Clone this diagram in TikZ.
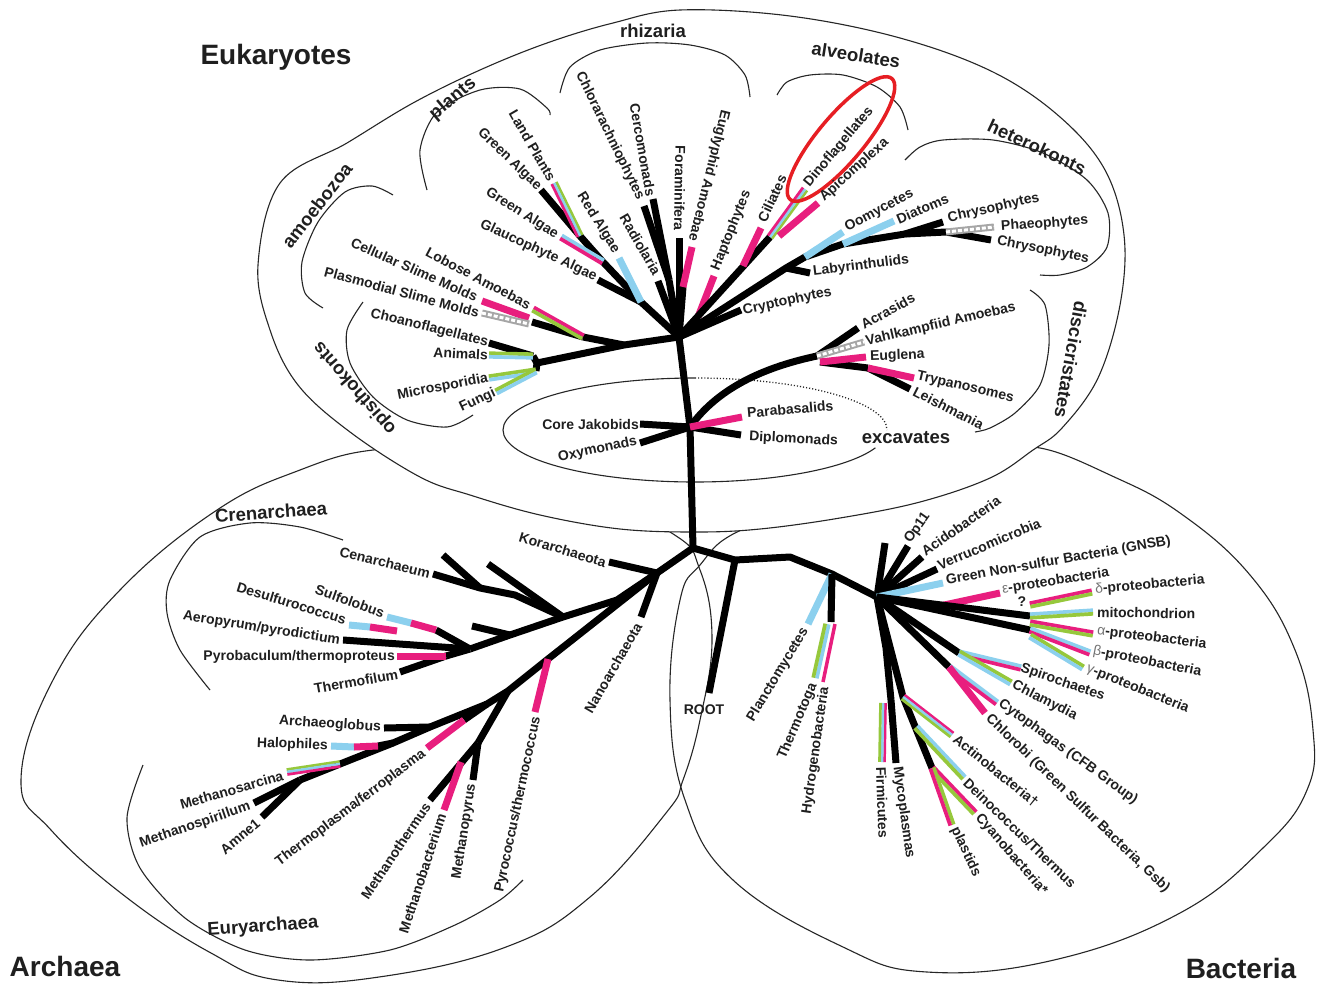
\documentclass[tikz,border=0pt]{standalone}
\usepackage{fontspec}
\setmainfont{Liberation Sans}
\usetikzlibrary{calc,shapes.geometric}
\definecolor{mag}{RGB}{232,30,126}
\definecolor{lblue}{RGB}{140,208,238}
\definecolor{lgreen}{RGB}{150,200,60}
\definecolor{hlred}{RGB}{230,30,35}
\newcommand\onebar[3]{\draw[line width=7pt,#3] (#1) -- (#2);}
\newcommand\twobar[4]{%
  \draw[line width=3.7pt,#3] ($(#1)!1.8pt!90:(#2)$) -- ($(#2)!1.8pt!-90:(#1)$);
  \draw[line width=3.7pt,#4] ($(#1)!1.8pt!-90:(#2)$) -- ($(#2)!1.8pt!90:(#1)$);}
\newcommand\threebar[5]{%
  \draw[line width=2.7pt,#3] ($(#1)!2.5pt!90:(#2)$) -- ($(#2)!2.5pt!-90:(#1)$);
  \draw[line width=2.7pt,#4] (#1) -- (#2);
  \draw[line width=2.7pt,#5] ($(#1)!2.5pt!-90:(#2)$) -- ($(#2)!2.5pt!90:(#1)$);}
\newcommand\hatchbar[2]{\draw[line width=7pt,black!35] (#1) -- (#2);
  \draw[line width=3pt,white,dash pattern=on 4pt off 2pt] (#1) -- (#2);}
\begin{document}
\begin{tikzpicture}[x=1pt,y=1pt,
  br/.style={line width=7pt,black,line join=round},
  thinl/.style={line width=1.1pt,black!85},
  lb/.style={font=\fontsize{14}{16}\selectfont\bfseries,inner sep=1pt,text=black!88},
  grp/.style={font=\fontsize{18.5}{20}\selectfont\bfseries,inner sep=0pt,text=black!88},
  big/.style={font=\fontsize{28}{31}\selectfont\bfseries,inner sep=0pt,text=black!88}]
\useasboundingbox (0,0) rectangle (1322,-983);
\fill[white] (0,0) rectangle (1322,-983);
% ---------- outlines ----------
\draw[thinl] plot[smooth cycle,tension=0.7] coordinates {(21,-780) (53,-680) (120,-590) (217,-510) (300,-470) (373,-450) (450,-452) (560,-482) (670,-532) (700,-570) (712,-640) (700,-720) (683,-780) (666,-813) (590,-897) (506,-947) (379,-977) (278,-980) (211,-953) (126,-897) (51,-830)};
\draw[thinl] plot[smooth cycle,tension=0.7] coordinates {(680,-600) (700,-565) (737,-532) (820,-505) (920,-480) (1000,-455) (1040,-448) (1110,-475) (1180,-513) (1250,-575) (1295,-650) (1313,-730) (1307,-790) (1264,-847) (1180,-913) (1054,-960) (927,-972) (843,-947) (733,-880) (685,-800) (670,-700)};
\draw[thinl,fill=white] plot[smooth cycle,tension=0.6] coordinates {(680,-10) (790,-16) (900,-38) (993,-72) (1060,-117) (1105,-170) (1124,-235) (1120,-305) (1098,-378) (1062,-428) (1033,-450) (990,-478) (920,-502) (840,-518) (760,-529) (697,-532) (620,-529) (540,-515) (470,-495) (420,-477) (350,-432) (298,-385) (270,-330) (258,-265) (280,-183) (347,-143) (413,-103) (480,-70) (547,-43) (613,-23)};
% excavates ellipse
\coordinate (exc) at (695,-430);
\draw[thinl] (exc) ++(90:192pt and 52pt) arc[start angle=90,end angle=340,x radius=192pt,y radius=52pt];
\draw[thinl,dotted,line width=1.3pt] (exc) ++(90:192pt and 52pt) arc[start angle=90,end angle=0,x radius=192pt,y radius=52pt];
% brackets
\draw[thinl] plot[smooth] coordinates {(393,-195) (372,-186) (345,-192) (318,-222) (302,-262) (305,-293) (323,-308)};
\draw[thinl] plot[smooth] coordinates {(427,-190) (420,-150) (437,-112) (480,-90) (520,-89) (547,-108) (550,-115)};
\draw[thinl] plot[smooth] coordinates {(560,-93) (570,-67) (600,-50) (647,-43) (690,-45) (725,-55) (745,-75) (750,-97)};
\draw[thinl] plot[smooth] coordinates {(777,-95) (787,-82) (810,-75) (843,-75) (877,-87) (900,-107) (908,-130)};
\draw[thinl] plot[smooth] coordinates {(905,-160) (920,-147) (943,-140) (993,-140) (1043,-153) (1087,-180) (1108,-213) (1107,-247) (1087,-267) (1060,-275) (1040,-275)};
\draw[thinl] plot[smooth] coordinates {(1030,-290) (1045,-305) (1049,-345) (1040,-385) (1015,-413) (990,-428) (975,-432)};
\draw[thinl] plot[smooth] coordinates {(363,-302) (347,-330) (350,-363) (373,-397) (407,-420) (447,-427) (473,-415)};
\draw[thinl] plot[smooth] coordinates {(343,-540) (300,-527) (250,-523) (200,-537) (170,-580) (167,-613) (180,-650) (210,-690)};
\draw[thinl] plot[smooth] coordinates {(143,-765) (127,-818) (140,-868) (185,-918) (245,-950) (310,-960) (390,-950) (455,-925) (500,-900) (523,-880)};
% ---------- trunk ----------
\coordinate (R) at (693,-548);
\coordinate (T1) at (690,-427);
\coordinate (E0) at (679,-337);
\draw[br] (R) -- (T1) -- (E0);
% ---------- opisthokonts / amoebozoa ----------
\coordinate (EL1) at (624,-345);
\coordinate (A0) at (583,-337);
\coordinate (OP0) at (537,-363);
\coordinate (OPa) at (533,-356);
\coordinate (OPb) at (536,-371);
\coordinate (tChoano) at (489,-343);
\coordinate (tAnimal) at (489,-355);
\coordinate (tMicro) at (489,-378);
\coordinate (tFungi) at (496,-392);
\draw[br] (E0) -- (EL1) -- (OP0);
\draw[br] (EL1) -- (A0);
\draw[br] (OP0) -- (OPa);
\draw[br] (OP0) -- (OPb);
\draw[br] (OPa) -- (tChoano);
\twobar{tAnimal}{OPa}{lgreen}{lblue}
\twobar{tMicro}{OPb}{lgreen}{lblue}
\twobar{tFungi}{OPb}{lgreen}{lblue}
\coordinate (A1) at (532,-322);
\coordinate (tLobo) at (533,-309);
\coordinate (tCell) at (482,-301);
\coordinate (CSa) at (529,-318);
\coordinate (tPlas2) at (482,-313);
\coordinate (PSa) at (529,-324);
\draw[br] (A1) -- (A0);
\twobar{tLobo}{A0}{mag}{lgreen}
\onebar{tCell}{CSa}{mag}
\hatchbar{tPlas2}{PSa}
% ---------- plants ----------
\coordinate (Pl0) at (641,-302);
\coordinate (Pl1) at (603,-262);
\coordinate (Pl2) at (580,-236);
\coordinate (tGlauc) at (598,-280);
\coordinate (tRed) at (619,-258);
\coordinate (tGreenB) at (561,-237);
\coordinate (tGreenA) at (541,-190);
\coordinate (tLand) at (554,-183);
\draw[br] (E0) -- (Pl0) -- (Pl1) -- (Pl2);
\draw[br] (tGlauc) -- (Pl0);
\draw[br] (tGreenA) -- (Pl2);
\onebar{tRed}{Pl0}{lblue}
\twobar{tGreenB}{Pl1}{lblue}{mag}
\threebar{tLand}{Pl2}{lgreen}{lblue}{mag}
% ---------- rhizaria ----------
\coordinate (Rh0) at (669,-280);
\coordinate (tChlor) at (644,-206);
\coordinate (tCerco) at (653,-199);
\coordinate (tForam) at (679,-238);
\coordinate (tRadio) at (658,-281);
\coordinate (tEugly) at (692,-247);
\coordinate (EG1) at (683,-287);
\draw[br] (tChlor) -- (Rh0);
\draw[br] (tCerco) -- (Rh0);
\draw[br] (Rh0) -- (E0);
\draw[br] (tForam) -- (E0);
\draw[br] (tRadio) -- (E0);
\draw[br] (EG1) -- (E0);
\onebar{tEugly}{EG1}{mag}
% ---------- alveolates ----------
\coordinate (tHapto) at (714,-276);
\coordinate (HA1) at (698,-317);
\coordinate (AL1) at (770,-237);
\coordinate (CI0) at (743,-266);
\coordinate (tCili) at (761,-228);
\coordinate (tDino) at (805,-189);
\coordinate (tApic) at (818,-203);
\coordinate (AL2) at (779,-236);
\draw[br] (HA1) -- (E0);
\onebar{tHapto}{HA1}{mag}
\draw[br] (E0) -- (AL1);
\onebar{tCili}{CI0}{mag}
\threebar{tDino}{AL1}{lgreen}{lblue}{mag}
\onebar{tApic}{AL2}{mag}
% ---------- heterokonts ----------
\coordinate (tCrypt) at (741,-310);
\coordinate (HK1) at (786,-268);
\coordinate (HK2) at (805,-257);
\coordinate (HK3) at (843,-244);
\coordinate (HK4) at (905,-234);
\coordinate (HK5) at (946,-232);
\coordinate (tLaby) at (810,-273);
\coordinate (tOomy) at (843,-232);
\coordinate (tDiat) at (894,-221);
\coordinate (tChryA) at (943,-222);
\coordinate (tPhae) at (994,-227);
\coordinate (tChryB) at (991,-240);
\draw[br] (tCrypt) -- (E0);
\draw[br] (E0) -- (HK1) -- (HK2) -- (HK3) -- (HK4) -- (HK5) -- (tChryB);
\draw[br] (HK1) -- (tLaby);
\draw[br] (HK4) -- (tChryA);
\onebar{tOomy}{HK2}{lblue}
\onebar{tDiat}{HK3}{lblue}
\hatchbar{HK5}{tPhae}
% ---------- discicristates ----------
\coordinate (DC3) at (817,-356);
\coordinate (DC4) at (820,-362);
\coordinate (tAcra) at (858,-328);
\coordinate (tVahl) at (864,-342);
\coordinate (tEugl) at (866,-357);
\coordinate (TR1) at (868,-368);
\coordinate (tTryp) at (914,-378);
\coordinate (tLeish) at (910,-389);
\draw[br] (T1) .. controls (720,-385) and (770,-366) .. (DC3);
\draw[br] (DC3) -- (tAcra);
\draw[br] (DC4) -- (TR1);
\draw[br] (TR1) -- (tLeish);
\hatchbar{DC3}{tVahl}
\onebar{DC4}{tEugl}{mag}
\onebar{TR1}{tTryp}{mag}
% ---------- excavates ----------
\coordinate (tJako) at (640,-424);
\coordinate (tOxy) at (640,-443);
\coordinate (tPara) at (742,-417);
\coordinate (tDiplo) at (741,-435);
\draw[br] (tJako) -- (T1);
\draw[br] (tOxy) -- (T1);
\draw[br] (T1) -- (tDiplo);
\onebar{T1}{tPara}{mag}
% ---------- archaea ----------
\coordinate (AR0) at (657,-573);
\coordinate (tKor) at (609,-562);
\coordinate (tNano) at (641,-617);
\draw[br] (R) -- (AR0);
\draw[br] (AR0) -- (tKor);
\draw[br] (AR0) -- (tNano);
\coordinate (CR1) at (617,-600);
\coordinate (CR2) at (563,-617);
\coordinate (CR3) at (510,-635);
\coordinate (CR4) at (470,-649);
\draw[br] (AR0) -- (CR1) -- (CR2) -- (CR3) -- (CR4);
\coordinate (tCen) at (433,-574);
\coordinate (CN1) at (480,-588);
\coordinate (CN2) at (515,-595);
\coordinate (tSpA) at (443,-555);
\coordinate (tSpB) at (488,-564);
\coordinate (tSpC) at (472,-626);
\draw[br] (tCen) -- (CN1) -- (CN2) -- (CR2);
\draw[br] (tSpA) -- (CN1);
\draw[br] (tSpB) -- (CR2);
\draw[br] (tSpC) -- (CR3);
\coordinate (tAero) at (343,-640);
\draw[br] (tAero) -- (CR4);
\coordinate (tSulf) at (387,-617);
\coordinate (Su1) at (411,-623);
\coordinate (Su2) at (436,-630);
\draw[br] (Su2) -- (CR4);
\onebar{tSulf}{Su1}{lblue}
\onebar{Su1}{Su2}{mag}
\coordinate (tDesu) at (349,-625);
\coordinate (De1) at (370,-627);
\coordinate (De2) at (397,-631);
\onebar{tDesu}{De1}{lblue}
\onebar{De1}{De2}{mag}
\coordinate (tPyrob) at (397,-656);
\coordinate (Py1) at (446,-656);
\coordinate (tTfil) at (400,-672);
\draw[br] (Py1) -- (CR4);
\draw[br] (tTfil) -- (Py1);
\onebar{tPyrob}{Py1}{mag}
% euryarchaea
\coordinate (EU1) at (548,-659);
\coordinate (EU2) at (508,-691);
\coordinate (EU3) at (487,-704);
\coordinate (EU4) at (430,-727);
\coordinate (EU5) at (393,-743);
\coordinate (EU6) at (340,-764);
\coordinate (MS0) at (300,-780);
\draw[br] (AR0) -- (EU1) -- (EU2) -- (EU3) -- (EU4) -- (EU5) -- (EU6) -- (MS0);
\coordinate (tPyro) at (535,-712);
\onebar{EU1}{tPyro}{mag}
\coordinate (MB0) at (478,-743);
\coordinate (tMthe) at (430,-800);
\coordinate (Mb1) at (461,-762);
\coordinate (tMbac) at (444,-810);
\coordinate (tMpyr) at (473,-780);
\draw[br] (EU2) -- (MB0);
\draw[br] (MB0) -- (tMthe);
\draw[br] (MB0) -- (tMpyr);
\onebar{Mb1}{tMbac}{mag}
\coordinate (Tp1) at (464,-720);
\coordinate (tTpla) at (427,-748);
\draw[br] (EU3) -- (Tp1);
\onebar{Tp1}{tTpla}{mag}
\coordinate (tArch) at (384,-728);
\draw[br] (tArch) -- (EU4);
\coordinate (tHalo) at (331,-746);
\coordinate (Ha1) at (354,-747);
\coordinate (Ha2) at (378,-746);
\draw[br] (Ha2) -- (EU5);
\onebar{tHalo}{Ha1}{lblue}
\onebar{Ha1}{Ha2}{mag}
\coordinate (tMsar) at (287,-772);
\threebar{tMsar}{EU6}{lgreen}{lblue}{mag}
\coordinate (tMspi) at (254,-803);
\coordinate (tAmne) at (262,-817);
\draw[br] (tMspi) -- (MS0);
\draw[br] (tAmne) -- (MS0);
% ---------- bacteria ----------
\coordinate (BA1) at (735,-560);
\coordinate (BA2) at (790,-557);
\coordinate (BA3) at (832,-574);
\coordinate (B1) at (877,-597);
\draw[br] (R) -- (BA1) -- (BA2) -- (BA3) -- (B1);
\coordinate (tRoot) at (709,-693);
\draw[br] (BA1) -- (tRoot);
\coordinate (tPlan) at (808,-624);
\onebar{BA3}{tPlan}{lblue}
\coordinate (TT1) at (831,-622);
\coordinate (TTa) at (827,-624);
\coordinate (TTb) at (835,-624);
\coordinate (tTtog) at (815,-678);
\coordinate (tHydr) at (823,-682);
\draw[br] (BA3) -- (TT1);
\twobar{TTa}{tTtog}{lblue}{lgreen}
\draw[line width=3.5pt,mag] (TTb) -- (tHydr);
\coordinate (tUnl) at (885,-543);
\coordinate (tOp11) at (908,-546);
\coordinate (tAcid) at (922,-557);
\coordinate (tVerr) at (937,-569);
\coordinate (tGNSB) at (943,-583);
\draw[br] (B1) -- (tUnl);
\draw[br] (B1) -- (tOp11);
\draw[br] (B1) -- (tAcid);
\draw[br] (B1) -- (tVerr);
\onebar{B1}{tGNSB}{lblue}
\coordinate (EP1) at (935,-607);
\coordinate (tEps) at (1000,-593);
\draw[br] (B1) -- (EP1);
\onebar{EP1}{tEps}{mag}
\coordinate (PR1) at (1030,-616);
\coordinate (PR2) at (1030,-630);
\coordinate (PRd) at (1030,-605);
\coordinate (PRa) at (1030,-623);
\coordinate (PRg) at (1030,-636);
\draw[br] (B1) -- (PR1);
\draw[br] (B1) -- (PR2);
\coordinate (tDelta) at (1092,-592);
\coordinate (tMito) at (1093,-612);
\coordinate (tAlpha) at (1093,-634);
\coordinate (tBeta) at (1090,-653);
\coordinate (tGamma) at (1083,-668);
\twobar{PRd}{tDelta}{mag}{lgreen}
\twobar{PR1}{tMito}{lblue}{lgreen}
\twobar{PRa}{tAlpha}{mag}{lgreen}
\twobar{PR2}{tBeta}{lblue}{mag}
\twobar{PRg}{tGamma}{lgreen}{lblue}
\coordinate (C1) at (959,-653);
\coordinate (C2) at (949,-667);
\coordinate (tSpir) at (1021,-668);
\coordinate (tChla) at (1011,-683);
\coordinate (tCyto) at (997,-703);
\coordinate (tChlo) at (985,-713);
\draw[br] (B1) -- (C1);
\draw[br] (B1) -- (C2);
\twobar{C1}{tSpir}{lblue}{mag}
\twobar{C1}{tChla}{lgreen}{lblue}
\twobar{C2}{tCyto}{lblue}{mag}
\onebar{C2}{tChlo}{mag}
\coordinate (F1) at (886,-648);
\coordinate (F0) at (891,-700);
\coordinate (F0a) at (883,-703);
\coordinate (tFirm) at (882,-762);
\coordinate (tMyco) at (896,-763);
\draw[br] (B1) -- (F1) -- (F0);
\draw[br] (F0) -- (tMyco);
\threebar{F0a}{tFirm}{mag}{lblue}{lgreen}
\coordinate (D1) at (903,-697);
\coordinate (D2) at (932,-768);
\coordinate (Dn1) at (916,-727);
\coordinate (tActi) at (952,-735);
\coordinate (tDein) at (964,-778);
\coordinate (tCyan) at (975,-813);
\coordinate (tPlst) at (952,-825);
\draw[br] (B1) -- (D1) -- (D2);
\threebar{D1}{tActi}{mag}{lblue}{lgreen}
\twobar{Dn1}{tDein}{lblue}{lgreen}
\twobar{D2}{tCyan}{mag}{lgreen}
\twobar{D2}{tPlst}{lgreen}{mag}
% ---------- highlight ----------
\node[draw=hlred,line width=3.5pt,ellipse,minimum width=158pt,minimum height=46pt,rotate=50] (hl) at (841,-139) {};
% ---------- group labels ----------
\node[big] (gEuk) at (276,-57) {Eukaryotes};
\node[big] (gArc) at (65,-966) {Archaea};
\node[big] (gBac) at (1241,-968) {Bacteria};
\node[grp,rotate=52] (gAmo) at (317,-205) {amoebozoa};
\node[grp,rotate=40] (gPla) at (453,-99) {plants};
\node[grp] (gRhi) at (653,-31) {rhizaria};
\node[grp,rotate=-9] (gAlv) at (856,-55) {alveolates};
\node[grp,rotate=-25] (gHet) at (1037,-147) {heterokonts};
\node[grp,rotate=-100] (gDis) at (1071,-360) {discicristates};
\node[grp] (gExc) at (906,-438) {excavates};
\node[grp,rotate=131] (gOpi) at (355,-388) {opisthokonts};
\node[grp,rotate=4] (gCre) at (271,-512) {Crenarchaea};
\node[grp,rotate=4] (gEur) at (263,-927) {Euryarchaea};
% ---------- eukaryote labels ----------
\node[lb,anchor=east,rotate=-14] (l1) at (tChoano) {Choanoflagellates};
\node[lb,anchor=east,rotate=-3] (l2) at (tAnimal) {Animals};
\node[lb,anchor=east,rotate=11] (l3) at (tMicro) {Microsporidia};
\node[lb,anchor=east,rotate=25] (l4) at (tFungi) {Fungi};
\node[lb,anchor=east,rotate=-24] (l5) at (478,-298) {Cellular Slime Molds};
\node[lb,anchor=east,rotate=-15] (l6) at (480,-313) {Plasmodial Slime Molds};
\node[lb,anchor=east,rotate=-28] (l7) at (531,-306) {Lobose Amoebas};
\node[lb,anchor=east,rotate=-25] (l8) at (597,-278) {Glaucophyte Algae};
\node[lb,anchor=east,rotate=-32] (l9) at (558,-236) {Green Algae};
\node[lb,anchor=east,rotate=-58] (l10) at (617,-253) {Red Algae};
\node[lb,anchor=east,rotate=-44] (l11) at (540,-189) {Green Algae};
\node[lb,anchor=east,rotate=-60] (l12) at (553,-181) {Land Plants};
\node[lb,anchor=east,rotate=-64] (l13) at (641,-200) {Chlorarachniophytes};
\node[lb,anchor=east,rotate=-80] (l14) at (651,-197) {Cercomonads};
\node[lb,anchor=east,rotate=-91] (l15) at (679,-232) {Foraminifera};
\node[lb,anchor=east,rotate=-60] (l16) at (658,-275) {Radiolaria};
\node[lb,anchor=east,rotate=-104] (l17) at (692,-242) {Euglyphid Amoebae};
\node[lb,anchor=west,rotate=68] (l18) at (715,-271) {Haptophytes};
\node[lb,anchor=west,rotate=65] (l19) at (761,-222) {Ciliates};
\node[lb,anchor=west,rotate=50] (l20) at (806,-186) {Dinoflagellates};
\node[lb,anchor=west,rotate=42] (l21) at (821,-200) {Apicomplexa};
\node[lb,anchor=west,rotate=28] (l22) at (845,-229) {Oomycetes};
\node[lb,anchor=west,rotate=23] (l23) at (896,-220) {Diatoms};
\node[lb,anchor=west,rotate=13] (l24) at (947,-219) {Chrysophytes};
\node[lb,anchor=west,rotate=4] (l25) at (1000,-227) {Phaeophytes};
\node[lb,anchor=west,rotate=-11] (l26) at (996,-241) {Chrysophytes};
\node[lb,anchor=west,rotate=7] (l27) at (812,-272) {Labyrinthulids};
\node[lb,anchor=west,rotate=12] (l28) at (742,-311) {Cryptophytes};
\node[lb,anchor=west,rotate=29] (l29) at (861,-326) {Acrasids};
\node[lb,anchor=west,rotate=13] (l30) at (865,-342) {Vahlkampfiid Amoebas};
\node[lb,anchor=west,rotate=2] (l31) at (869,-357) {Euglena};
\node[lb,anchor=west,rotate=-13] (l32) at (916,-376) {Trypanosomes};
\node[lb,anchor=west,rotate=-27] (l33) at (913,-390) {Leishmania};
\node[lb,anchor=east] (l34) at (tJako) {Core Jakobids};
\node[lb,anchor=east,rotate=12] (l35) at (638,-441) {Oxymonads};
\node[lb,anchor=west,rotate=5] (l36) at (746,-413) {Parabasalids};
\node[lb,anchor=west,rotate=-3] (l37) at (748,-437) {Diplomonads};
% ---------- archaea labels ----------
\node[lb,anchor=east,rotate=-17] (a1) at (607,-563) {Korarchaeota};
\node[lb,anchor=east,rotate=60] (a2) at (639,-623) {Nanoarchaeota};
\node[lb,anchor=east,rotate=-14] (a3) at (431,-574) {Cenarchaeum};
\node[lb,anchor=east,rotate=-20] (a4) at (385,-614) {Sulfolobus};
\node[lb,anchor=east,rotate=-17] (a5) at (347,-620) {Desulfurococcus};
\node[lb,anchor=east,rotate=-9] (a6) at (341,-641) {Aeropyrum/pyrodictium};
\node[lb,anchor=east] (a7) at (396,-657) {Pyrobaculum/thermoproteus};
\node[lb,anchor=east,rotate=10] (a8) at (399,-674) {Thermofilum};
\node[lb,anchor=east,rotate=-4] (a9) at (382,-728) {Archaeoglobus};
\node[lb,anchor=east,rotate=-2] (a10) at (329,-746) {Halophiles};
\node[lb,anchor=east,rotate=16] (a11) at (284,-775) {Methanosarcina};
\node[lb,anchor=east,rotate=19] (a12) at (251,-806) {Methanospirillum};
\node[lb,anchor=east,rotate=40] (a13) at (259,-821) {Amne1};
\node[lb,anchor=east,rotate=37] (a14) at (425,-752) {Thermoplasma/ferroplasma};
\node[lb,anchor=east,rotate=56] (a15) at (428,-803) {Methanothermus};
\node[lb,anchor=east,rotate=72] (a16) at (442,-813) {Methanobacterium};
\node[lb,anchor=east,rotate=81] (a17) at (472,-783) {Methanopyrus};
\node[lb,anchor=east,rotate=78] (a18) at (537,-716) {Pyrococcus/thermococcus};
% ---------- bacteria labels ----------
\node[lb] (b0) at (704,-710) {ROOT};
\node[lb,anchor=east,rotate=59] (b1) at (806,-628) {Planctomycetes};
\node[lb,anchor=east,rotate=67] (b2) at (814,-683) {Thermotoga};
\node[lb,anchor=east,rotate=82] (b3) at (825,-686) {Hydrogenobacteria};
\node[lb,anchor=west,rotate=55] (b4) at (907,-543) {Op11};
\node[lb,anchor=west,rotate=35] (b5) at (922,-553) {Acidobacteria};
\node[lb,anchor=west,rotate=23] (b6) at (937,-566) {Verrucomicrobia};
\node[lb,anchor=west,rotate=10] (b7) at (945,-581) {Green Non-sulfur Bacteria (GNSB)};
\node[lb,anchor=west,rotate=9] (b8) at (1001,-590) {{\mdseries\color{black!55}ε}-proteobacteria};
\node[lb] (b9) at (1022,-602) {?};
\node[lb,anchor=west,rotate=5] (b10) at (1094,-590) {{\mdseries\color{black!55}δ}-proteobacteria};
\node[lb,anchor=west,rotate=-1] (b11) at (1096,-612) {mitochondrion};
\node[lb,anchor=west,rotate=-7] (b12) at (1096,-631) {{\mdseries\color{black!55}α}-proteobacteria};
\node[lb,anchor=west,rotate=-11] (b13) at (1092,-651) {{\mdseries\color{black!55}β}-proteobacteria};
\node[lb,anchor=west,rotate=-22] (b14) at (1086,-668) {{\mdseries\color{black!55}γ}-proteobacteria};
\node[lb,anchor=west,rotate=-19] (b15) at (1020,-668) {Spirochaetes};
\node[lb,anchor=west,rotate=-27] (b16) at (1012,-684) {Chlamydia};
\node[lb,anchor=west,rotate=-36] (b17) at (999,-702) {Cytophagas (CFB Group)};
\node[lb,anchor=west,rotate=-44] (b18) at (987,-716) {Chlorobi (Green Sulfur Bacteria, Gsb)};
\node[lb,anchor=west,rotate=-39] (b19) at (954,-737) {Actinobacteria†};
\node[lb,anchor=west,rotate=-44] (b20) at (965,-780) {Deinococcus/Thermus};
\node[lb,anchor=west,rotate=-49] (b21) at (977,-815) {Cyanobacteria*};
\node[lb,anchor=west,rotate=-65] (b22) at (954,-827) {plastids};
\node[lb,anchor=west,rotate=-88] (b23) at (881,-766) {Firmicutes};
\node[lb,anchor=west,rotate=-82] (b24) at (897,-766) {Mycoplasmas};
\end{tikzpicture}
\end{document}
